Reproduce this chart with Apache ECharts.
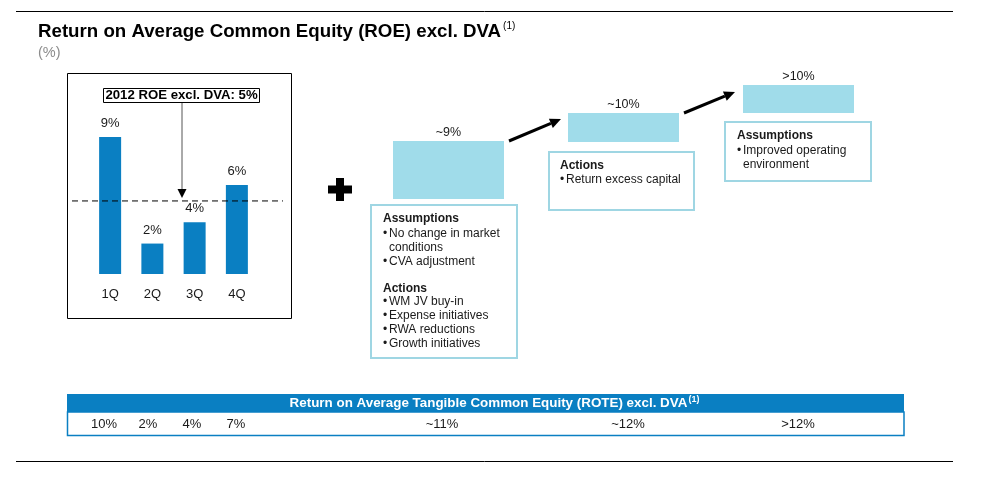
<!DOCTYPE html>
<html>
<head>
<meta charset="utf-8">
<script src="https://cdn.jsdelivr.net/npm/echarts@6/dist/echarts.min.js"></script>
<style>
html,body{margin:0;padding:0;background:#fff;}
#chart{width:987px;height:493px;}
</style>
</head>
<body>
<div id="chart"></div>
<script>
// ---- data ----
const quarters = ['1Q', '2Q', '3Q', '4Q'];
const roeValues = [9.0, 2.0, 3.4, 5.85];
const roeLabels = ['9%', '2%', '4%', '6%'];
const roeAverage = 4.8;
const averageText = '2012 ROE excl. DVA: 5%';
const targetLabels = ['~9%', '~10%', '>10%'];
const box1Lines = [
  ['h', 'Assumptions'], ['b', 'No change in market'], ['c', 'conditions'], ['b', 'CVA adjustment'],
  ['h', 'Actions'], ['b', 'WM JV buy-in'], ['b', 'Expense initiatives'], ['b', 'RWA reductions'], ['b', 'Growth initiatives']
];
const box2Lines = [['h', 'Actions'], ['b', 'Return excess capital']];
const box3Lines = [['h', 'Assumptions'], ['b', 'Improved operating'], ['c', 'environment']];
const roteLabels = ['10%', '2%', '4%', '7%', '~11%', '~12%', '>12%'];
const titleText = 'Return on Average Common Equity (ROE) excl. DVA';
const subtitleText = '(%)';
const tableTitle = 'Return on Average Tangible Common Equity (ROTE) excl. DVA';

// ---- styles ----
const FONT = '"Liberation Sans", Arial, Helvetica, sans-serif';
const BLUE = '#0a7fc2';
const LIGHT = '#a0dcea';
const OUTLINE = '#9fd6e3';
const TXT = '#1a1a1a';

const chart = echarts.init(document.getElementById('chart'), null, {renderer: 'canvas'});

function boxText(lines, x, ys) {
  const out = [];
  lines.forEach((l, i) => {
    const y = ys[i];
    if (l[0] === 'h') {
      out.push({type: 'text', x: x, y: y, style: {text: l[1], font: 'bold 12px ' + FONT, fill: TXT, verticalAlign: 'middle'}});
    } else if (l[0] === 'b') {
      out.push({type: 'text', x: x, y: y, style: {text: '•', font: '12px ' + FONT, fill: TXT, verticalAlign: 'middle'}});
      out.push({type: 'text', x: x + 6, y: y, style: {text: l[1], font: '12px ' + FONT, fill: TXT, verticalAlign: 'middle'}});
    } else {
      out.push({type: 'text', x: x + 6, y: y, style: {text: l[1], font: '12px ' + FONT, fill: TXT, verticalAlign: 'middle'}});
    }
  });
  return out;
}

function arrow(x1, y1, x2, y2, color, w, headLen, headW) {
  const dx = x2 - x1, dy = y2 - y1, len = Math.sqrt(dx * dx + dy * dy);
  const ux = dx / len, uy = dy / len;
  const bx = x2 - ux * headLen, by = y2 - uy * headLen;
  const px = -uy * headW / 2, py = ux * headW / 2;
  return [
    {type: 'line', shape: {x1: x1, y1: y1, x2: bx, y2: by}, style: {stroke: color, lineWidth: w}},
    {type: 'polygon', shape: {points: [[x2, y2], [bx + px, by + py], [bx - px, by - py]]}, style: {fill: '#000'}}
  ];
}

const targetRects = [
  {x: 393, y: 141, w: 111, h: 58},
  {x: 568, y: 113, w: 111, h: 29},
  {x: 743, y: 85, w: 111, h: 28}
];

let graphics = [];
// rules
graphics.push({type: 'line', shape: {x1: 16, y1: 11.5, x2: 953, y2: 11.5}, style: {stroke: '#000', lineWidth: 1}});
graphics.push({type: 'line', shape: {x1: 16, y1: 461.5, x2: 953, y2: 461.5}, style: {stroke: '#000', lineWidth: 1}});
// title
graphics.push({type: 'text', x: 38, y: 32, style: {
  text: '{t|' + titleText + '}{s|(1)}',
  verticalAlign: 'middle',
  rich: {
    t: {font: 'bold 18.7px ' + FONT, fill: '#000', lineHeight: 22},
    s: {font: '10px ' + FONT, fill: '#000', verticalAlign: 'top', lineHeight: 22, padding: [0, 0, 11, 2]}
  }
}});
graphics.push({type: 'text', x: 38, y: 53, style: {text: subtitleText, font: '14.5px ' + FONT, fill: '#8c8c8c', verticalAlign: 'middle'}});
// left box
graphics.push({type: 'rect', shape: {x: 67.5, y: 73.5, width: 224, height: 245}, style: {fill: 'none', stroke: '#000', lineWidth: 1}});
// annotation arrow
graphics.push({type: 'line', shape: {x1: 182, y1: 102, x2: 182, y2: 190}, style: {stroke: '#555', lineWidth: 1}});
graphics.push({type: 'polygon', shape: {points: [[182, 198], [177.5, 189], [186.5, 189]]}, style: {fill: '#000'}});
graphics.push({type: 'rect', shape: {x: 103.5, y: 88.5, width: 156, height: 14}, style: {fill: '#fff', stroke: '#000', lineWidth: 1}});
graphics.push({type: 'text', x: 181.5, y: 95.5, style: {text: averageText, font: 'bold 13.2px ' + FONT, fill: '#000', align: 'center', verticalAlign: 'middle'}});
// plus sign
graphics.push({type: 'rect', shape: {x: 336, y: 178, width: 8, height: 23}, style: {fill: '#000'}});
graphics.push({type: 'rect', shape: {x: 328, y: 185.5, width: 24, height: 8}, style: {fill: '#000'}});
// target blocks
targetRects.forEach((r, i) => {
  graphics.push({type: 'rect', shape: {x: r.x, y: r.y, width: r.w, height: r.h}, style: {fill: LIGHT}});
  graphics.push({type: 'text', x: r.x + r.w / 2, y: r.y - 8, style: {text: targetLabels[i], font: '12.5px ' + FONT, fill: TXT, align: 'center', verticalAlign: 'middle'}});
});
// arrows between blocks
graphics = graphics.concat(arrow(509, 141, 561, 119, '#000', 3, 11, 10));
graphics = graphics.concat(arrow(684, 113, 735, 92, '#000', 3, 11, 10));
// text boxes
graphics.push({type: 'rect', shape: {x: 371, y: 205, width: 146, height: 153}, style: {fill: 'none', stroke: OUTLINE, lineWidth: 2}});
graphics.push({type: 'rect', shape: {x: 549, y: 152, width: 145, height: 58}, style: {fill: 'none', stroke: OUTLINE, lineWidth: 2}});
graphics.push({type: 'rect', shape: {x: 725, y: 122, width: 146, height: 59}, style: {fill: 'none', stroke: OUTLINE, lineWidth: 2}});
graphics = graphics.concat(boxText(box1Lines, 383, [219, 234, 248, 262, 289, 302, 316, 330, 344]));
graphics = graphics.concat(boxText(box2Lines, 560, [166, 180]));
graphics = graphics.concat(boxText(box3Lines, 737, [136, 151, 165]));
// ROTE table
graphics.push({type: 'rect', shape: {x: 67, y: 394, width: 837, height: 18}, style: {fill: BLUE}});
graphics.push({type: 'rect', shape: {x: 67.5, y: 412, width: 836.5, height: 23.5}, style: {fill: 'none', stroke: BLUE, lineWidth: 1.5}});
graphics.push({type: 'text', x: 494.5, y: 403.5, style: {
  text: '{t|' + tableTitle + '}{s|(1)}', align: 'center', verticalAlign: 'middle',
  rich: {
    t: {font: 'bold 13.4px ' + FONT, fill: '#fff', lineHeight: 16},
    s: {font: 'bold 9px ' + FONT, fill: '#fff', verticalAlign: 'top', lineHeight: 16, padding: [0, 0, 8, 1]}
  }
}});
const roteX = [104, 148, 192, 236, 442, 628, 798];
roteLabels.forEach((t, i) => {
  graphics.push({type: 'text', x: roteX[i], y: 424, style: {text: t, font: '13px ' + FONT, fill: TXT, align: 'center', verticalAlign: 'middle'}});
});

const option = {
  animation: false,
  backgroundColor: '#fff',
  grid: [
    {left: 89, width: 169, top: 121.8, height: 152.2},
    {left: 72, width: 211, top: 121.8, height: 152.2}
  ],
  xAxis: [
    {type: 'category', gridIndex: 0, data: quarters,
      axisLine: {show: false}, axisTick: {show: false},
      axisLabel: {margin: 14, fontSize: 13, fontFamily: FONT, color: TXT}},
    {type: 'value', gridIndex: 1, min: 0, max: 1, show: false}
  ],
  yAxis: [
    {type: 'value', gridIndex: 0, min: 0, max: 10, show: false},
    {type: 'value', gridIndex: 1, min: 0, max: 10, show: false}
  ],
  series: [
    {type: 'bar', xAxisIndex: 0, yAxisIndex: 0, data: roeValues, barWidth: 22,
      itemStyle: {color: BLUE},
      label: {show: true, position: 'top', distance: 7, fontSize: 13, fontFamily: FONT, color: TXT,
        formatter: p => roeLabels[p.dataIndex]}},
    {type: 'line', xAxisIndex: 1, yAxisIndex: 1, data: [[0, roeAverage], [1, roeAverage]],
      symbol: 'none', lineStyle: {color: '#000', width: 1, type: [6, 4]}, z: 3}
  ],
  graphic: {elements: graphics}
};
chart.setOption(option);
</script>
</body>
</html>
